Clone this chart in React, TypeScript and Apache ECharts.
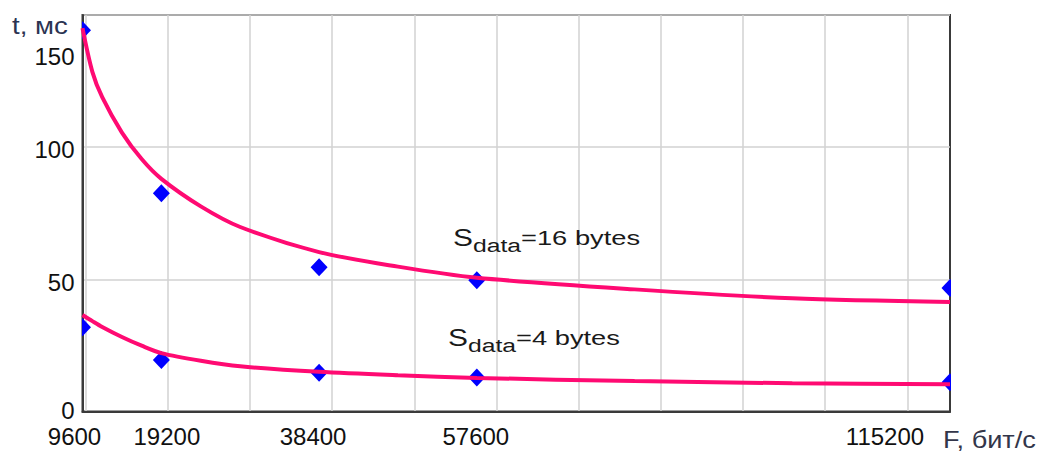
import React, { useEffect, useRef } from "react";
import * as echarts from "echarts";

// Baud rates (bit/s) where the response time was measured
const rates = [9600, 19200, 38400, 57600, 115200];
// Measured response time, ms
const measured16 = [144.2, 82.6, 54.6, 49.7, 46.7];
const measured4 = [31.9, 19.5, 14.7, 12.9, 11.1];

// Trend curves through the measurements
const trendRates = [9600, 10800, 12000, 14400, 16800, 19200, 24000, 28800, 38400, 48000, 57600, 76800, 96000, 115200];
const trend16 = [145, 128.5, 118.9, 105.5, 95.5, 88.0, 77.6, 69.8, 60.3, 54.8, 50.6, 46.2, 42.8, 41.4];
const trend4 = [36.5, 34.2, 32.0, 28.2, 24.9, 22.1, 19.2, 17.1, 15.0, 13.7, 12.7, 11.5, 10.7, 10.3];

// Vertical grid positions and labelled rates on the x axis
const gridRates = [10000, 20000, 30000, 40000, 50000, 60000, 70000, 80000, 90000, 100000, 110000];
const rateLabels = [9600, 19200, 38400, 57600, 115200];
const timeTicks = [0, 50, 100, 150];

const PINK = "#ff0a72";
const BLUE = "#0000ff";
const FONT = "Liberation Sans, Arial, sans-serif";

// per-label horizontal nudges (padding left, right)
const xLabelPad: Record<number, [number, number]> = {
  9600: [0, 16],
  19200: [11, 0],
  38400: [0, 12],
  57600: [0, 2],
  115200: [0, 130],
};
// per-label vertical nudges (padding top, bottom)
const yLabelPad: Record<number, [number, number]> = {
  0: [0, 2],
  50: [6, 0],
  100: [4, 0],
  150: [82, 0],
};

const xRich: Record<string, any> = {};
rateLabels.forEach((v) => {
  const p = xLabelPad[v];
  xRich["x" + v] = { fontSize: 24, fontFamily: FONT, color: "#111", padding: [0, p[1], 0, p[0]] };
});
const yRich: Record<string, any> = {};
timeTicks.forEach((v) => {
  const p = yLabelPad[v];
  yRich["y" + v] = { fontSize: 24, fontFamily: FONT, color: "#111", padding: [p[0], 0, p[1], 0] };
});

const diamondSeries = (name: string, values: number[]) => ({
  name,
  type: "custom",
  clip: true,
  z: 2,
  data: rates.map((r, i) => [r, values[i]]),
  renderItem: (_params: any, api: any) => {
    const p = api.coord([api.value(0), api.value(1)]);
    return {
      type: "polygon",
      shape: {
        points: [
          [p[0], p[1] - 9],
          [p[0] + 8.5, p[1]],
          [p[0], p[1] + 9],
          [p[0] - 8.5, p[1]],
        ],
      },
      style: { fill: BLUE },
    };
  },
});

const trendSeries = (name: string, values: number[]) => ({
  name,
  type: "line",
  z: 3,
  smooth: 0.3,
  showSymbol: false,
  clip: true,
  data: trendRates.map((r, i) => [r, values[i]]),
  lineStyle: { color: PINK, width: 4 },
});

const annotation = (x: number, y: number, bytes: string) => ({
  type: "text",
  x,
  y,
  scaleX: 1.3,
  z: 10,
  style: {
    text: `{s|S}{d|data}{m|=${bytes} bytes}`,
    x: 0,
    y: 0,
    align: "left",
    verticalAlign: "middle",
    fill: "#1a1a1a",
    rich: {
      s: { fontSize: 23, fontFamily: FONT, fill: "#1a1a1a" },
      d: { fontSize: 19, fontFamily: FONT, fill: "#1a1a1a", padding: [15, 0, 0, 0] },
      m: { fontSize: 21, fontFamily: FONT, fill: "#1a1a1a" },
    },
  },
});

export default function App() {
  const ref = useRef<HTMLDivElement>(null);

  useEffect(() => {
    if (!ref.current) return;
    const chart = echarts.init(ref.current, undefined, { renderer: "svg" });
    chart.setOption({
      animation: false,
      backgroundColor: "#ffffff",
      grid: {
        left: 82.5,
        right: 92,
        top: 15,
        bottom: 40.5,
        show: true,
        borderColor: "#3a3a3a",
        borderWidth: 2,
        outerBoundsMode: "none",
      },
      xAxis: {
        type: "value",
        min: 9600,
        max: 115200,
        axisLine: { show: true, lineStyle: { color: "#3a3a3a", width: 2 } },
        axisTick: { show: false, customValues: gridRates },
        splitLine: { show: true, lineStyle: { color: "#d2d2d2", width: 1.5 } },
        axisLabel: {
          customValues: rateLabels,
          margin: 13,
          formatter: (v: number) => `{x${v}|${v}}`,
          rich: xRich,
        },
      },
      yAxis: {
        type: "value",
        min: 0,
        max: 150,
        interval: 50,
        axisLine: { show: true, lineStyle: { color: "#3a3a3a", width: 2 } },
        axisTick: { show: false },
        splitLine: { show: true, lineStyle: { color: "#d2d2d2", width: 1.5 } },
        axisLabel: {
          margin: 8,
          formatter: (v: number) => `{y${v}|${v}}`,
          rich: yRich,
        },
      },
      graphic: [
        annotation(453, 238, "16"),
        annotation(448, 338, "4"),
        {
          type: "text",
          x: 12,
          y: 26,
          scaleX: 1.15,
          style: {
            text: "t, мс",
            x: 0,
            y: 0,
            align: "left",
            verticalAlign: "middle",
            fontSize: 24,
            fontFamily: FONT,
            fill: "#2b3352",
          },
        },
        {
          type: "text",
          x: 943,
          y: 439.5,
          scaleX: 1.18,
          style: {
            text: "F, бит/с",
            x: 0,
            y: 0,
            align: "left",
            verticalAlign: "middle",
            fontSize: 23,
            fontFamily: FONT,
            fill: "#33364a",
          },
        },
      ],
      series: [
        diamondSeries("Sdata=16 bytes", measured16),
        diamondSeries("Sdata=4 bytes", measured4),
        trendSeries("trend 16 bytes", trend16),
        trendSeries("trend 4 bytes", trend4),
      ],
    });
    return () => chart.dispose();
  }, []);

  return (
    <div
      ref={ref}
      style={{ position: "fixed", left: 0, top: 0, width: 1042, height: 452 }}
    />
  );
}
